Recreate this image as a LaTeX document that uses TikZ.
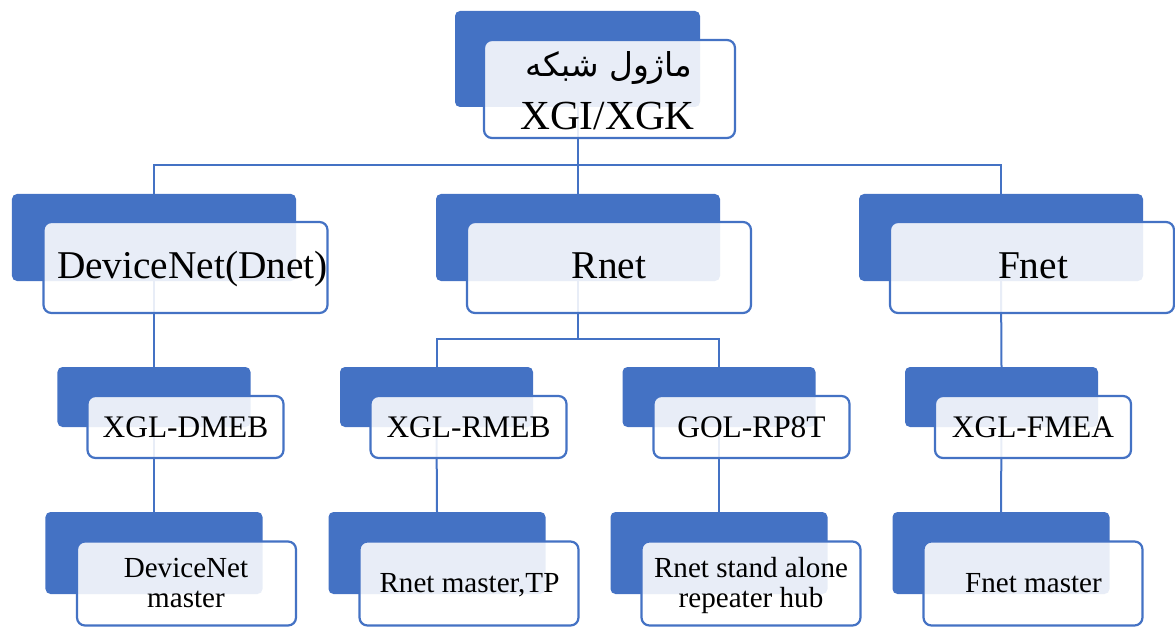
\documentclass[tikz,border=0pt]{standalone}
\usepackage{fontspec}
\setmainfont{Liberation Serif}
\newfontfamily\arabicfont[Script=Arabic]{DejaVu Sans}
\TeXXeTstate=1
\definecolor{myblue}{HTML}{4472C4}
\begin{document}
\begin{tikzpicture}[x=1bp,y=-1bp,
  bluebox/.style={fill=myblue, draw=none, rounded corners=5bp, inner sep=0pt, outer sep=0pt},
  whitebox/.style={draw=myblue, line width=2.2bp, fill=white, fill opacity=0.88, rounded corners=8bp, inner sep=0pt, outer sep=0pt},
  conn/.style={draw=myblue, line width=2bp},
  lbl/.style={inner sep=0pt, anchor=base, text=black, align=center},
  bA/.style={bluebox, minimum width=245bp, minimum height=96bp},
  wA/.style={whitebox, minimum width=251bp, minimum height=98bp},
  bB/.style={bluebox, minimum width=284bp, minimum height=87bp},
  wB/.style={whitebox, minimum width=284bp, minimum height=91bp},
  bC/.style={bluebox, minimum width=193bp, minimum height=60bp},
  wC/.style={whitebox, minimum width=196bp, minimum height=62bp},
  bD/.style={bluebox, minimum width=217bp, minimum height=82bp},
  wD/.style={whitebox, minimum width=219bp, minimum height=84bp},
]
\useasboundingbox (0,0) rectangle (1175,634);
% blue back boxes
\node[bA] (b0) at (577.5,59) {};
\node[bB] (b1) at (154,237.5) {};
\node[bB] (b2) at (578,237.5) {};
\node[bB] (b3) at (1001,237.5) {};
\node[bC] (b11) at (154,397) {};
\node[bC] (b21) at (436.5,397) {};
\node[bC] (b22) at (719,397) {};
\node[bC] (b31) at (1001.5,397) {};
\node[bD] (b111) at (154,553) {};
\node[bD] (b211) at (437,553) {};
\node[bD] (b221) at (719,553) {};
\node[bD] (b311) at (1001,553) {};
% connectors
\coordinate (j0) at (577.5,165);
\coordinate (j2) at (578,339);
\draw[conn] (b0.south) -- (j0) -| (b1.north);
\draw[conn] (j0) -| (b2.north);
\draw[conn] (j0) -| (b3.north);
\draw[conn] (b1.south) -- (b11.north);
\draw[conn] (b2.south) -- (j2) -| (b21.north);
\draw[conn] (j2) -| (b22.north);
\draw[conn] (b3.south) -- (b31.north);
\draw[conn] (b11.south) -- (b111.north);
\draw[conn] (b21.south) -- (b211.north);
\draw[conn] (b22.south) -- (b221.north);
\draw[conn] (b31.south) -- (b311.north);
% white front boxes
\node[wA] (w0) at (609.5,89) {};
\node[wB] (w1) at (185.5,267.5) {};
\node[wB] (w2) at (609,267.5) {};
\node[wB] (w3) at (1032,267.5) {};
\node[wC] (w11) at (185.5,427) {};
\node[wC] (w21) at (468.5,427) {};
\node[wC] (w22) at (751.5,427) {};
\node[wC] (w31) at (1033,427) {};
\node[wD] (w111) at (186.5,583.5) {};
\node[wD] (w211) at (469,583.5) {};
\node[wD] (w221) at (751,583.5) {};
\node[wD] (w311) at (1033,583.5) {};
% texts
\node[lbl] (t0a) at (609,77) {\fontsize{33}{36}\selectfont\arabicfont\beginR ماژول شبکه\endR};
\node[lbl] (t0b) at (607.5,130) {\fontsize{41.5}{44}\selectfont XGI/XGK};
\node[lbl] (t1) at (192.5,279) {\fontsize{39.5}{42}\selectfont DeviceNet(Dnet)};
\node[lbl] (t2) at (609,279) {\fontsize{39.5}{42}\selectfont Rnet};
\node[lbl] (t3) at (1033,279) {\fontsize{39.5}{42}\selectfont Fnet};
\node[lbl] (t11) at (185.5,437) {\fontsize{31.5}{34}\selectfont XGL-DMEB};
\node[lbl] (t21) at (468.5,437) {\fontsize{31.5}{34}\selectfont XGL-RMEB};
\node[lbl] (t22) at (751.5,437) {\fontsize{31.5}{34}\selectfont GOL-RP8T};
\node[lbl] (t31) at (1033,437) {\fontsize{31.5}{34}\selectfont XGL-FMEA};
\node[lbl] (t111a) at (186,577) {\fontsize{29.2}{30}\selectfont DeviceNet};
\node[lbl] (t111b) at (186,607) {\fontsize{29.2}{30}\selectfont master};
\node[lbl] (t211) at (469.5,592) {\fontsize{29.2}{30}\selectfont Rnet master,TP};
\node[lbl] (t221a) at (751,577) {\fontsize{29.2}{30}\selectfont Rnet stand alone};
\node[lbl] (t221b) at (751,607) {\fontsize{29.2}{30}\selectfont repeater hub};
\node[lbl] (t311) at (1033.5,592) {\fontsize{29.2}{30}\selectfont Fnet master};
\end{tikzpicture}
\end{document}
